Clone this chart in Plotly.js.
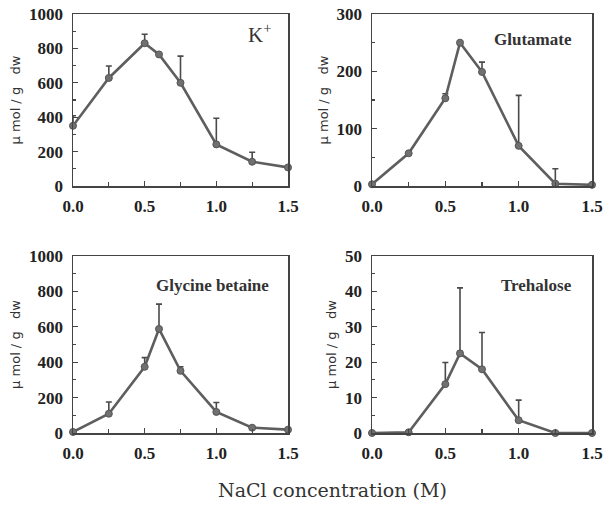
<!DOCTYPE html>
<html>
<head>
<meta charset="utf-8">
<script src="https://cdn.plot.ly/plotly-3.0.1.min.js"></script>
<style>html,body{margin:0;padding:0;background:#fff;}#chart{width:603px;height:510px;}</style>
</head>
<body>
<div id="chart"></div>
<script>
const nacl = [0, 0.25, 0.5, 0.6, 0.75, 1.0, 1.25, 1.5];
const kValues = [350, 628, 830, 765, 600, 242, 141, 108];
const kErrors = [58, 70, 52, 5, 155, 152, 55, 0];
const gluValues = [3, 57, 153, 250, 199, 70, 4, 2];
const gluErrors = [0, 0, 8, 0, 17, 88, 26, 0];
const gbValues = [6, 109, 374, 588, 351, 119, 30, 19];
const gbErrors = [0, 66, 52, 140, 23, 53, 0, 0];
const treValues = [0, 0.2, 13.8, 22.5, 18, 3.6, 0, 0];
const treErrors = [0, 0, 6.1, 18.5, 10.4, 5.7, 0, 0];
const panelLabels = ['K<sup>+</sup>', 'Glutamate', 'Glycine betaine', 'Trehalose'];
const xTickVals = [0, 0.5, 1.0, 1.5];
const xTickText = ['0.0', '0.5', '1.0', '1.5'];
const yTitle = '\u03bc mol / g   dw';
const xTitle = 'NaCl concentration (M)';

const lineColor = '#5e5e5e';
function series(y, err, xa, ya) {
  return {
    x: nacl, y: y, xaxis: xa, yaxis: ya, type: 'scatter', mode: 'lines+markers',
    cliponaxis: false,
    line: {color: lineColor, width: 2.6},
    marker: {color: '#707070', size: 7, line: {color: '#555', width: 1}},
    error_y: {type: 'data', symmetric: false, array: err, arrayminus: err.map(() => 0),
      color: '#4a4a4a', thickness: 1.6, width: 3},
    showlegend: false, hoverinfo: 'x+y'
  };
}
const data = [
  series(kValues, kErrors, 'x', 'y'),
  series(gluValues, gluErrors, 'x2', 'y2'),
  series(gbValues, gbErrors, 'x3', 'y3'),
  series(treValues, treErrors, 'x4', 'y4')
];

const tickFont = {family: 'Liberation Serif, serif', size: 17, color: '#222', weight: 'bold'};
function xax(domain, anchor) {
  return {domain: domain, anchor: anchor, range: [0, 1.5], tickvals: xTickVals, ticktext: xTickText,
    ticks: 'inside', ticklen: 5, tickwidth: 1.2, tickcolor: '#444',
    minor: {tickvals: [0.25, 0.75, 1.25], ticks: 'inside', ticklen: 4, tickcolor: '#444'},
    showline: true, linecolor: '#444', linewidth: 1.5, mirror: true, showgrid: false, zeroline: false,
    tickfont: tickFont, ticklabelstandoff: 4, fixedrange: true};
}
function yax(domain, anchor, max, dtick) {
  return {domain: domain, anchor: anchor, range: [0, max], dtick: dtick, tick0: 0,
    ticks: 'inside', ticklen: 5, tickwidth: 1.2, tickcolor: '#444',
    minor: {dtick: dtick / 2, ticks: 'inside', ticklen: 3, tickcolor: '#444'},
    showline: true, linecolor: '#444', linewidth: 1.5, mirror: true, showgrid: false, zeroline: false,
    tickfont: tickFont, ticklabelstandoff: 5,
    title: {text: yTitle, font: {family: 'DejaVu Sans, sans-serif', size: 13, color: '#333'}, standoff: 5},
    fixedrange: true};
}
const W = 603, H = 510;
const xdL = [73 / W, 288 / W], xdR = [372 / W, 592 / W];
const ydT = [1 - 186 / H, 1 - 14 / H], ydB = [1 - 433 / H, 1 - 256 / H];

const annFont = {family: 'Liberation Serif, serif', size: 17, color: '#333', weight: 'bold'};
const layout = {
  width: W, height: H, margin: {l: 0, r: 0, t: 0, b: 0},
  paper_bgcolor: '#fff', plot_bgcolor: '#fff',
  xaxis: xax(xdL, 'y'), yaxis: yax(ydT, 'x', 1000, 200),
  xaxis2: xax(xdR, 'y2'), yaxis2: yax(ydT, 'x2', 300, 100),
  xaxis3: xax(xdL, 'y3'), yaxis3: yax(ydB, 'x3', 1000, 200),
  xaxis4: xax(xdR, 'y4'), yaxis4: yax(ydB, 'x4', 50, 10),
  annotations: [
    {text: panelLabels[0], xref: 'paper', yref: 'paper', x: 259 / W, y: 1 - 34 / H, showarrow: false,
      font: {family: 'Liberation Serif, serif', size: 21, color: '#333'}, xanchor: 'center', yanchor: 'middle'},
    {text: panelLabels[1], xref: 'paper', yref: 'paper', x: 533 / W, y: 1 - 40 / H, showarrow: false,
      font: annFont, xanchor: 'center', yanchor: 'middle'},
    {text: panelLabels[2], xref: 'paper', yref: 'paper', x: 212 / W, y: 1 - 285 / H, showarrow: false,
      font: annFont, xanchor: 'center', yanchor: 'middle'},
    {text: panelLabels[3], xref: 'paper', yref: 'paper', x: 536 / W, y: 1 - 285 / H, showarrow: false,
      font: annFont, xanchor: 'center', yanchor: 'middle'},
    {text: xTitle, xref: 'paper', yref: 'paper', x: 332 / W, y: 1 - 490 / H, showarrow: false,
      font: {family: 'DejaVu Serif, serif', size: 19, color: '#333'}, xanchor: 'center', yanchor: 'middle'}
  ]
};
Plotly.newPlot('chart', data, layout, {displayModeBar: false, staticPlot: true});
</script>
</body>
</html>
